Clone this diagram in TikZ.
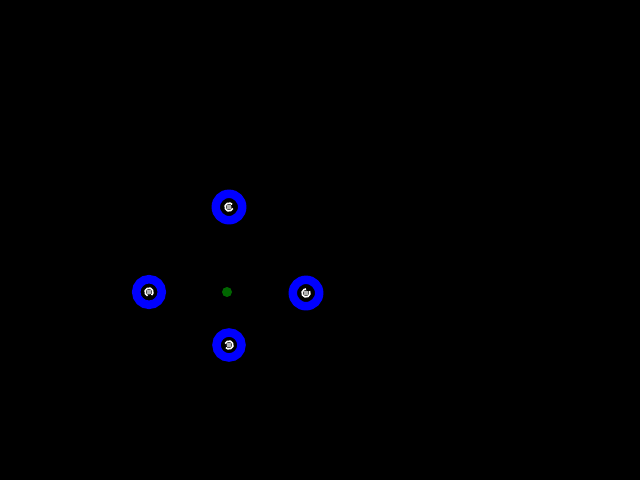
\documentclass[tikz,border=0pt]{standalone}
\usetikzlibrary{calc}
\begin{document}
\begin{tikzpicture}[x=1pt,y=-1pt,
  rotor/.style={draw=blue,line width=8.5pt},
  hub/.style={draw=white,line width=1.6pt}]
\fill[black] (0,0) rectangle (640,480);
\useasboundingbox (0,0) rectangle (640,480);
\fill[green!40!black] (227,292) circle (5);
\foreach \n/\x/\y/\r/\a in {t/229/207/13.2/20, l/149/292/12.8/110, r/306/293/13.2/-30, b/229/345/12.5/200}{
  \coordinate (\n) at (\x,\y);
  \draw[rotor] (\n) circle (\r);
  \fill[gray!60] (\n) circle (2.5);
  \draw[hub] ($(\n)+(\a:4)$) arc (\a:\a+300:4);
}
\end{tikzpicture}
\end{document}
